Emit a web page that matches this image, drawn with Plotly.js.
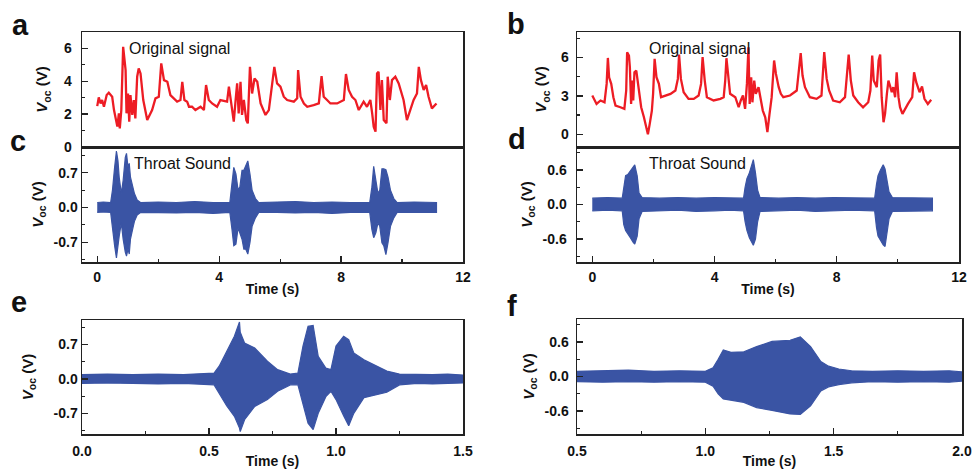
<!DOCTYPE html>
<html><head><meta charset="utf-8">
<script src="https://cdn.plot.ly/plotly-3.0.1.min.js"></script>
<style>html,body{margin:0;padding:0;background:#fff}#chart{width:974px;height:469px}</style>
</head><body><div id="chart"></div><script>
// ---- Panel a: original signal (red), time (s) and Voc (V)
const tA = [0,0.05,0.11,0.16,0.22,0.31,0.38,0.49,0.55,0.60,0.66,0.71,0.74,0.79,0.82,0.85,0.93,0.96,1.01,1.05,1.09,1.15,1.20,1.25,1.31,1.36,1.42,1.51,1.64,1.80,1.91,2.02,2.10,2.19,2.30,2.40,2.62,2.73,2.79,2.86,2.95,3.01,3.11,3.22,3.39,3.50,3.57,3.66,3.77,3.93,4.04,4.26,4.32,4.37,4.48,4.54,4.59,4.64,4.70,4.75,4.81,4.89,4.94,5.01,5.08,5.16,5.25,5.36,5.52,5.63,5.74,5.81,5.90,6.01,6.12,6.23,6.45,6.56,6.59,6.67,6.78,6.89,7.10,7.27,7.36,7.43,7.54,7.65,7.87,8.09,8.16,8.25,8.36,8.47,8.58,8.74,8.85,8.96,9.02,9.07,9.13,9.18,9.23,9.29,9.34,9.40,9.49,9.53,9.60,9.67,9.78,9.89,10.05,10.16,10.38,10.49,10.55,10.62,10.71,10.79,10.87,10.98,11.13];
const vA = [2.49,3.02,2.65,2.86,2.45,3.16,3.30,3.06,2.25,1.74,1.24,2.05,1.13,2.25,4.88,6.10,4.68,2.05,3.26,1.54,3.16,1.95,2.86,1.74,4.28,4.78,4.48,2.86,1.64,2.25,2.96,3.06,5.09,4.07,3.97,3.16,2.76,2.86,3.97,2.86,2.76,2.45,2.45,2.25,2.45,2.25,3.77,2.86,2.65,2.45,2.86,2.76,3.67,3.06,1.54,2.86,3.87,2.05,3.97,1.95,2.86,1.64,1.44,4.88,3.26,4.17,3.97,2.65,1.95,2.25,3.67,4.88,3.87,3.67,3.06,2.86,2.76,2.96,4.68,3.06,2.65,2.45,2.55,2.65,4.32,3.06,2.86,2.65,2.65,2.86,4.44,3.47,3.06,2.86,2.25,2.76,2.45,2.86,2.05,1.24,0.93,4.48,4.58,2.25,4.07,1.64,1.44,4.28,2.86,4.07,4.28,3.87,2.86,1.64,2.86,3.26,4.88,4.07,3.47,3.77,3.06,2.35,2.65];

// ---- Panel b: original signal (red)
const tB = [0,0.08,0.14,0.27,0.40,0.47,0.51,0.55,0.62,0.69,0.76,0.92,1.05,1.11,1.14,1.20,1.23,1.27,1.31,1.34,1.38,1.44,1.49,1.53,1.60,1.69,1.77,1.82,1.88,1.95,1.99,2.04,2.10,2.18,2.25,2.39,2.56,2.72,2.80,2.84,2.90,2.99,3.15,3.32,3.48,3.56,3.61,3.68,3.75,3.97,4.19,4.30,4.35,4.39,4.46,4.51,4.68,4.79,4.86,4.93,5.00,5.06,5.11,5.15,5.20,5.24,5.30,5.35,5.44,5.51,5.58,5.66,5.73,5.80,5.87,5.95,6.01,6.10,6.17,6.25,6.47,6.69,6.78,6.82,6.88,6.96,7.12,7.34,7.50,7.56,7.59,7.67,7.75,7.88,8.10,8.27,8.34,8.39,8.46,8.54,8.70,8.86,9.03,9.10,9.16,9.21,9.31,9.37,9.42,9.47,9.53,9.58,9.64,9.69,9.74,9.80,9.85,9.91,9.96,10.02,10.07,10.15,10.33,10.47,10.53,10.60,10.71,10.79,10.87,10.98,11.09];
const vB = [3.03,2.64,2.37,2.64,2.50,3.94,5.97,4.46,3.94,2.90,2.24,2.11,1.98,3.42,6.42,6.16,5.24,2.37,4.20,2.64,4.85,4.98,4.07,3.03,2.11,1.33,0.55,0.00,0.81,1.85,3.16,5.90,4.46,3.94,2.90,3.03,3.16,3.42,4.33,6.24,4.33,3.29,2.77,2.77,3.03,3.94,6.03,4.20,2.90,2.64,2.77,2.90,4.20,5.95,4.20,3.16,2.90,2.11,2.64,3.03,1.98,3.94,6.81,2.37,4.46,2.50,4.20,3.16,3.68,2.90,1.85,1.33,0.16,1.59,2.90,5.77,4.72,3.68,3.16,2.90,3.03,3.42,5.24,6.34,4.59,3.68,2.90,2.77,3.03,5.24,6.42,4.33,3.42,2.64,2.50,2.90,5.24,6.24,4.20,3.03,2.50,2.11,2.50,3.42,6.16,4.20,3.68,5.77,6.24,2.90,0.94,1.59,3.16,4.20,3.81,3.29,3.68,2.90,4.85,2.90,2.11,1.59,2.37,2.90,4.85,4.07,3.29,3.73,2.77,2.37,2.69];

// ---- Panel c: throat sound envelope (upper / lower)
const tC = [0,0.2,0.44,0.50,0.57,0.63,0.68,0.72,0.79,0.85,0.92,0.96,1.01,1.05,1.09,1.16,1.22,1.31,1.42,2.0,2.6,3.2,3.8,4.35,4.42,4.48,4.55,4.62,4.68,4.75,4.81,4.87,4.94,5.01,5.08,5.19,5.30,5.9,6.5,7.1,7.7,8.3,8.94,9.01,9.07,9.14,9.21,9.27,9.34,9.40,9.47,9.54,9.62,9.73,9.84,10.4,11.0,11.13];
const upC = [0.10,0.11,0.10,0.35,0.81,1.14,0.94,0.61,0.28,0.55,1.01,1.09,0.81,0.89,0.61,0.41,0.28,0.15,0.10,0.11,0.10,0.12,0.10,0.10,0.48,0.81,0.68,0.35,0.42,0.75,0.75,0.85,0.94,0.68,0.35,0.18,0.10,0.11,0.12,0.10,0.11,0.10,0.10,0.41,0.83,0.55,0.28,0.35,0.78,0.78,0.76,0.61,0.35,0.18,0.10,0.11,0.10,0.10];
const loC = [-0.10,-0.09,-0.10,-0.34,-0.77,-1.02,-0.84,-0.58,-0.31,-0.64,-0.90,-0.98,-0.84,-0.94,-0.64,-0.44,-0.28,-0.15,-0.10,-0.10,-0.11,-0.10,-0.12,-0.10,-0.44,-0.77,-0.74,-0.41,-0.51,-0.64,-0.84,-0.84,-0.94,-0.71,-0.38,-0.21,-0.10,-0.10,-0.11,-0.10,-0.12,-0.10,-0.10,-0.44,-0.61,-0.51,-0.31,-0.38,-0.71,-0.77,-0.95,-0.71,-0.38,-0.21,-0.10,-0.11,-0.10,-0.10];

// ---- Panel d: throat sound envelope
const tD = [0,0.5,0.98,1.03,1.09,1.16,1.25,1.34,1.39,1.47,1.53,1.63,2.2,2.8,3.4,4.0,4.5,4.95,5.00,5.06,5.14,5.22,5.27,5.34,5.41,5.49,6.1,6.7,7.3,7.9,8.5,9.24,9.30,9.35,9.43,9.52,9.58,9.65,9.71,9.82,10.4,11.13];
const upD = [0.11,0.12,0.11,0.30,0.50,0.52,0.58,0.66,0.69,0.50,0.20,0.12,0.11,0.12,0.11,0.12,0.11,0.11,0.30,0.45,0.55,0.70,0.78,0.55,0.25,0.12,0.11,0.12,0.11,0.12,0.11,0.11,0.35,0.50,0.60,0.69,0.62,0.40,0.22,0.12,0.11,0.11];
const loD = [-0.11,-0.10,-0.11,-0.35,-0.45,-0.50,-0.58,-0.66,-0.69,-0.55,-0.25,-0.12,-0.11,-0.10,-0.12,-0.11,-0.10,-0.11,-0.30,-0.45,-0.58,-0.66,-0.71,-0.60,-0.30,-0.12,-0.11,-0.10,-0.12,-0.11,-0.10,-0.11,-0.40,-0.55,-0.62,-0.70,-0.73,-0.45,-0.25,-0.12,-0.11,-0.11];

// ---- Panel e: zoomed throat sound envelope
const tE = [0,0.1,0.2,0.3,0.4,0.52,0.54,0.57,0.60,0.62,0.623,0.64,0.68,0.73,0.77,0.82,0.85,0.87,0.89,0.91,0.93,0.96,0.98,1.00,1.03,1.05,1.07,1.11,1.15,1.20,1.25,1.32,1.38,1.44,1.5];
const upE = [0.09,0.10,0.09,0.10,0.09,0.12,0.26,0.55,0.87,1.16,0.95,0.73,0.63,0.36,0.19,0.10,0.12,0.67,1.07,1.09,0.46,0.22,0.19,0.67,0.87,0.80,0.53,0.39,0.29,0.16,0.10,0.09,0.09,0.10,0.08];
const loE = [-0.09,-0.08,-0.09,-0.10,-0.09,-0.12,-0.30,-0.55,-0.76,-1.00,-1.07,-0.83,-0.56,-0.42,-0.25,-0.12,-0.12,-0.49,-0.90,-1.03,-0.70,-0.36,-0.25,-0.42,-0.75,-0.95,-0.70,-0.38,-0.33,-0.27,-0.12,-0.09,-0.10,-0.09,-0.08];

// ---- Panel f: zoomed throat sound envelope
const tF = [0.5,0.6,0.7,0.8,0.9,1.0,1.03,1.05,1.07,1.10,1.15,1.20,1.26,1.33,1.37,1.41,1.45,1.48,1.52,1.57,1.65,1.75,1.85,1.95,2.0];
const upF = [0.09,0.10,0.11,0.09,0.10,0.09,0.15,0.30,0.46,0.42,0.43,0.52,0.61,0.63,0.69,0.52,0.26,0.18,0.13,0.10,0.09,0.10,0.09,0.10,0.08];
const loF = [-0.09,-0.10,-0.09,-0.10,-0.09,-0.10,-0.17,-0.30,-0.39,-0.42,-0.45,-0.54,-0.59,-0.65,-0.66,-0.51,-0.25,-0.18,-0.14,-0.11,-0.09,-0.10,-0.09,-0.10,-0.08];

// ---- tick labels
const tickV07 = [-0.7, 0, 0.7], tickT07 = ['-0.7', '0.0', '0.7'];
const tickV06 = [-0.6, 0, 0.6], tickT06 = ['-0.6', '0.0', '0.6'];
const panelLetters = ['a', 'b', 'c', 'd', 'e', 'f'];
const noteOrig = 'Original signal', noteThroat = 'Throat Sound';

const RED = 'rgb(237,28,36)', BLUE = 'rgb(58,84,164)';
const FONT = '"Liberation Sans", Arial, Helvetica, sans-serif';
const YT = '<b><i>V</i><sub>oc</sub> (V)</b>';

function redLine(t, v, xa, ya) {
  return {x: t, y: v, type: 'scatter', mode: 'lines', line: {color: RED, width: 2.3}, xaxis: xa, yaxis: ya, hoverinfo: 'skip'};
}
function band(t, up, lo, xa, ya) {
  return {x: t.concat(t.slice().reverse()), y: up.concat(lo.slice().reverse()), type: 'scatter', mode: 'lines',
    fill: 'toself', fillcolor: BLUE, line: {color: BLUE, width: 1.2}, xaxis: xa, yaxis: ya, hoverinfo: 'skip'};
}

const data = [
  redLine(tA, vA, 'x', 'y'),
  band(tC, upC, loC, 'x2', 'y2'),
  redLine(tB, vB, 'x3', 'y3'),
  band(tD, upD, loD, 'x4', 'y4'),
  band(tE, upE, loE, 'x5', 'y5'),
  band(tF, upF, loF, 'x6', 'y6')
];

const W = 974, H = 469;
const px = v => v / W, py = v => 1 - v / H;
const base = {showline: true, mirror: true, linecolor: '#222', linewidth: 1.5, ticks: 'inside', ticklen: 6, tickwidth: 1.3,
  tickcolor: '#222', showgrid: false, zeroline: false, fixedrange: true,
  tickfont: {family: FONT, size: 14, color: '#111', weight: 'bold'}};
function ax(extra) { return Object.assign({}, base, extra); }
const minor = (d) => ({ticks: 'inside', ticklen: 3, tickwidth: 1.2, tickcolor: '#222', dtick: d, showgrid: false});
const xTitle = {text: '<b>Time (s)</b>', font: {family: FONT, size: 14, color: '#111'}, standoff: 0};
const yTitle = (s) => ({text: YT, font: {family: FONT, size: 15, color: '#111'}, standoff: s});

const colL = [px(82), px(463)], colR = [px(577), px(959)];
const layout = {
  width: W, height: H, margin: {l: 0, r: 0, t: 0, b: 0}, paper_bgcolor: '#fff', plot_bgcolor: '#fff', showlegend: false,
  font: {family: FONT, color: '#111'},
  xaxis: ax({domain: colL, range: [-0.5, 12], anchor: 'y', ticks: '', showticklabels: false}),
  yaxis: ax({domain: [py(147), py(32)], range: [0, 7], anchor: 'x', dtick: 2, minor: minor(1), title: yTitle(12), ticklabelstandoff: 6}),
  xaxis2: ax({domain: colL, range: [-0.5, 12], anchor: 'y2', dtick: 4, minor: minor(2), title: xTitle, ticklabelstandoff: 2}),
  yaxis2: ax({domain: [py(262), py(147)], range: [-1.1, 1.22], anchor: 'x2', tickvals: tickV07, ticktext: tickT07, minor: {ticks: 'inside', ticklen: 3, tickwidth: 1.2, tickcolor: '#222', tickvals: [-1.05, -0.35, 0.35, 1.05]}, title: yTitle(6)}),
  xaxis3: ax({domain: colR, range: [-0.5, 12], anchor: 'y3', ticks: '', showticklabels: false}),
  yaxis3: ax({domain: [py(147), py(32)], range: [-1, 8], anchor: 'x3', dtick: 3, minor: minor(1.5), title: yTitle(10), ticklabelstandoff: 4}),
  xaxis4: ax({domain: colR, range: [-0.5, 12], anchor: 'y4', dtick: 4, minor: minor(2), title: xTitle, ticklabelstandoff: 2}),
  yaxis4: ax({domain: [py(262), py(147)], range: [-1, 1], anchor: 'x4', tickvals: tickV06, ticktext: tickT06, minor: {ticks: 'inside', ticklen: 3, tickwidth: 1.2, tickcolor: '#222', tickvals: [-0.9, -0.3, 0.3, 0.9]}, title: yTitle(6), ticklabelstandoff: 6}),
  xaxis5: ax({domain: colL, range: [0, 1.5], anchor: 'y5', dtick: 0.5, tickformat: '.1f', minor: minor(0.25), title: xTitle, ticklabelstandoff: 4}),
  yaxis5: ax({domain: [py(434), py(320)], range: [-1.12, 1.2], anchor: 'x5', tickvals: tickV07, ticktext: tickT07, minor: {ticks: 'inside', ticklen: 3, tickwidth: 1.2, tickcolor: '#222', tickvals: [-1.05, -0.35, 0.35, 1.05]}, title: yTitle(16)}),
  xaxis6: ax({domain: [px(577), px(962)], range: [0.5, 2.0], anchor: 'y6', dtick: 0.5, tickformat: '.1f', minor: minor(0.25), title: xTitle, ticklabelstandoff: 4}),
  yaxis6: ax({domain: [py(434), py(319)], range: [-1, 1], anchor: 'x6', tickvals: tickV06, ticktext: tickT06, minor: {ticks: 'inside', ticklen: 3, tickwidth: 1.2, tickcolor: '#222', tickvals: [-0.9, -0.3, 0.3, 0.9]}, title: yTitle(6), ticklabelstandoff: 4}),
  annotations: []
};

const letterPos = [[20, 43], [516, 42], [18, 159], [517, 157], [19, 320], [512, 324]];
panelLetters.forEach((L, i) => layout.annotations.push({text: '<b>' + L + '</b>', xref: 'paper', yref: 'paper',
  x: px(letterPos[i][0]), y: py(letterPos[i][1]), xanchor: 'center', yanchor: 'bottom', showarrow: false,
  font: {family: FONT, size: 29, color: '#111'}}));
const notes = [[noteOrig, 179.5, 48], [noteOrig, 699, 48], [noteThroat, 182.5, 163], [noteThroat, 697.5, 164]];
notes.forEach(n => layout.annotations.push({text: n[0], xref: 'paper', yref: 'paper', x: px(n[1]), y: py(n[2]),
  xanchor: 'center', yanchor: 'middle', showarrow: false, font: {family: FONT, size: 16, color: '#111'}}));

Plotly.newPlot('chart', data, layout, {displayModeBar: false, staticPlot: true});
</script></body></html>
